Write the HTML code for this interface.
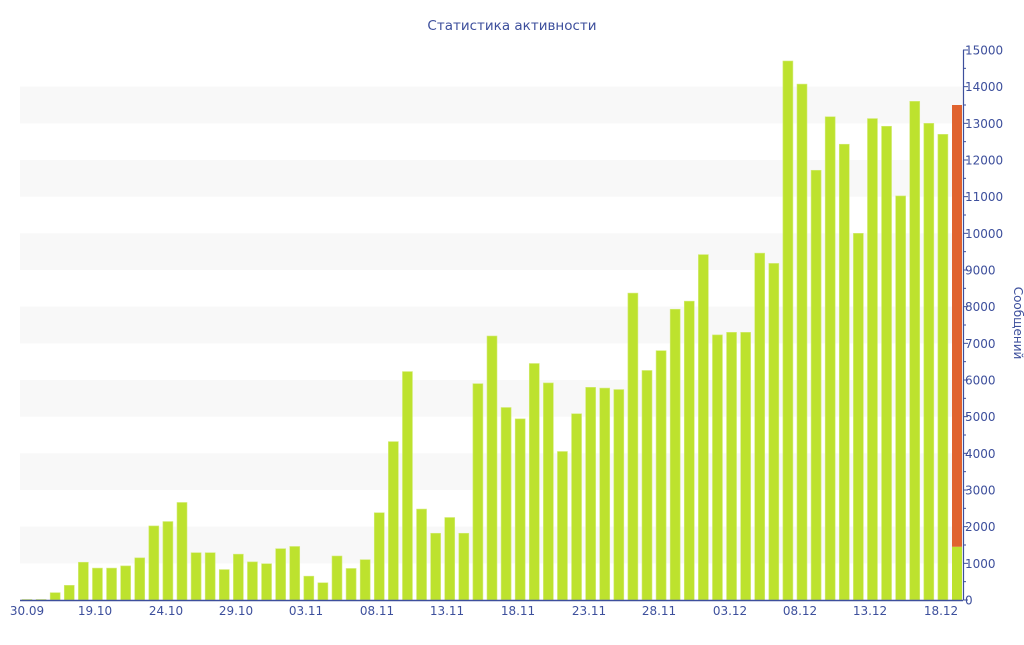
<!DOCTYPE html>
<html><head><meta charset="utf-8"><style>
body{margin:0;background:#fff;}
svg text{font-family:"DejaVu Sans","Liberation Sans",sans-serif;fill:#3d4f9c;}
</style></head><body>
<svg id="c" width="1024" height="640" xmlns="http://www.w3.org/2000/svg">
<text x="512" y="30" font-size="13.5" text-anchor="middle">Статистика активности</text>
<g id="bands"></g><g id="bars"></g>
<line x1="20" y1="600.5" x2="963" y2="600.5" stroke="#3d4f9c" stroke-width="1.5"/>
<line x1="963.5" y1="50" x2="963.5" y2="600" stroke="#3d4f9c" stroke-width="1.2"/>
<g id="ax"></g>
<text transform="translate(1014,323) rotate(90)" font-size="12" text-anchor="middle">Сообщений</text>
</svg>
<script>
var ns="http://www.w3.org/2000/svg",s=document.getElementById('c');
function el(p,t,a,txt){var e=document.createElementNS(ns,t);for(var k in a)e.setAttribute(k,a[k]);if(txt!=null)e.textContent=txt;document.getElementById(p).appendChild(e);}
function Y(v){return 600-v*550/15000;}
for(var v=1000;v<15000;v+=2000)el('bands','rect',{x:20,y:Y(v+1000),width:943,height:Y(v)-Y(v+1000),fill:'#f8f8f8'});
var d=[15,15,200,400,1030,870,870,930,1150,2020,2140,2660,1290,1290,830,1250,1040,990,1400,1460,650,470,1200,860,1100,2380,4320,6230,2480,1820,2250,1820,5900,7200,5250,4940,6450,5920,4050,5080,5800,5780,5740,8370,6260,6800,7930,8150,9420,7230,7300,7300,9460,9180,14700,14070,11720,13180,12430,10000,13130,12920,11020,13600,13000,12700];
var sp=930/66;
d.forEach(function(v,i){var x=27+i*sp;el('bars','rect',{x:x-5,y:Y(v),width:10,height:600-Y(v),fill:'#bde22e',stroke:'#d4ec7a','stroke-width':0.6});});
var xl=27+66*sp;
el('bars','rect',{x:xl-5,y:Y(13500),width:10,height:Y(1450)-Y(13500),fill:'#e0632f'});
el('bars','rect',{x:xl-5,y:Y(1450),width:10,height:600-Y(1450),fill:'#bde22e'});
for(var v=0;v<=15000;v+=500){var y=Y(v);el('ax','line',{x1:963,y1:y,x2:v%1000?966:968,y2:y,stroke:'#3d4f9c'});if(v%1000==0)el('ax','text',{x:965,y:y+4.5,'font-size':12},v);}
var L=['30.09','19.10','24.10','29.10','03.11','08.11','13.11','18.11','23.11','28.11','03.12','08.12','13.12','18.12'],X=[27,95,166,236,306,377,447,518,589,659,730,800,870,941];
L.forEach(function(t,i){el('ax','text',{x:X[i],y:615,'font-size':12,'text-anchor':'middle'},t);});
</script>
</body></html>
